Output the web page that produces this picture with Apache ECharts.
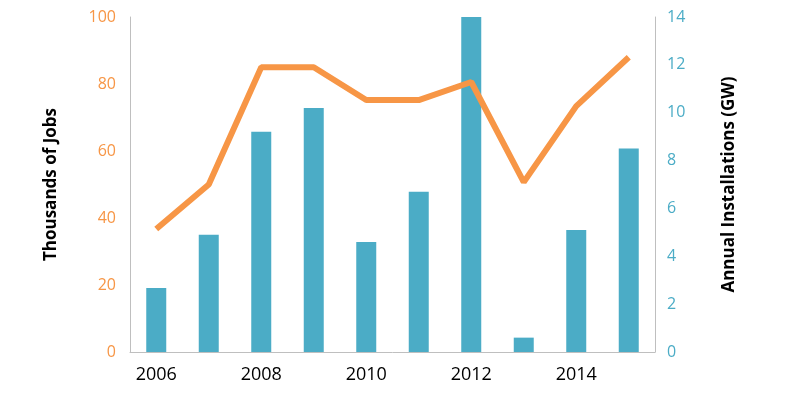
<!DOCTYPE html>
<html><head><meta charset="utf-8">
<script src="https://cdn.jsdelivr.net/npm/echarts@6/dist/echarts.min.js"></script>
<style>html,body{margin:0;padding:0;background:#fff}#c{width:800px;height:407px}</style>
</head><body><div id="c"></div>
<script>
const years = ['2006','2007','2008','2009','2010','2011','2012','2013','2014','2015'];
const installationsGW = [2.67, 4.9, 9.2, 10.2, 4.6, 6.7, 14.0, 0.6, 5.1, 8.5];
const jobsThousands = [36.7, 50, 85, 85, 75.2, 75.2, 80.6, 50.7, 73.4, 88];
const chart = echarts.init(document.getElementById('c'));
chart.setOption({
  animation:false,
  grid:{left:130,right:145,top:17,bottom:55},
  xAxis:{type:'category',data:years,
    axisLine:{lineStyle:{color:'#bfbfbf'}},axisTick:{show:false},
    axisLabel:{color:'#000',fontSize:18,fontFamily:'Open Sans',margin:14}},
  yAxis:[
    {type:'value',min:0,max:100,interval:20,position:'left',
     name:'Thousands of Jobs',nameLocation:'middle',nameGap:70,
     nameTextStyle:{color:'#000',fontSize:17,fontWeight:'bold',fontFamily:'Open Sans'},
     axisLine:{show:true,lineStyle:{color:'#bfbfbf'}},axisTick:{show:false},splitLine:{show:false},
     axisLabel:{color:'#F79646',fontSize:16,fontFamily:'Open Sans',margin:14}},
    {type:'value',min:0,max:14,interval:2,position:'right',
     name:'Annual Installations (GW)',nameLocation:'middle',nameGap:66,nameRotate:90,
     nameTextStyle:{color:'#000',fontSize:17,fontWeight:'bold',fontFamily:'Open Sans'},
     axisLine:{show:true,lineStyle:{color:'#bfbfbf'}},axisTick:{show:false},splitLine:{show:false},
     axisLabel:{color:'#4BACC6',fontSize:16,fontFamily:'Open Sans',margin:12}}
  ],
  series:[
    {type:'bar',yAxisIndex:1,data:installationsGW,barWidth:20,itemStyle:{color:'#4BACC6'}},
    {type:'line',yAxisIndex:0,data:jobsThousands,symbol:'none',lineStyle:{color:'#F79646',width:6},itemStyle:{color:'#F79646'}}
  ]
});
</script></body></html>
